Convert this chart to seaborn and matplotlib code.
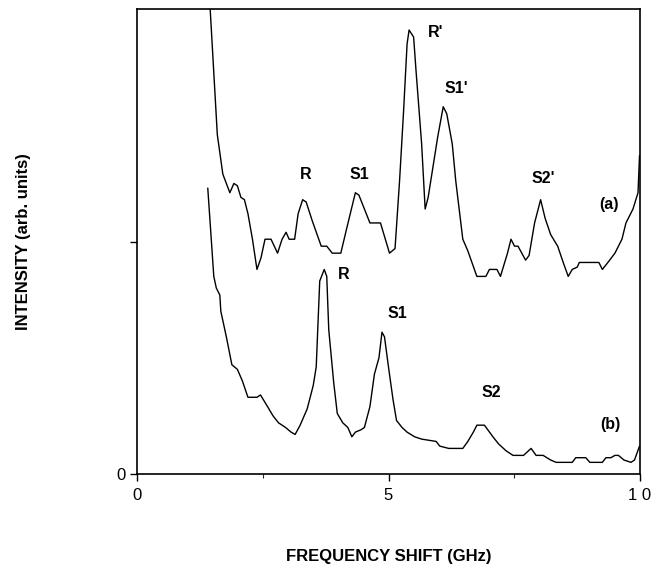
import numpy as np
import pandas as pd
import matplotlib
matplotlib.use('Agg')
import matplotlib.pyplot as plt
from matplotlib.ticker import FixedLocator
import seaborn as sns

# spectrum (a): frequency shift (GHz) and intensity (arb. units)
freq_a = [1.44, 1.59, 1.70, 1.84, 1.92, 1.99, 2.06, 2.13, 2.20, 2.29, 2.38, 2.46,
          2.54, 2.66, 2.79, 2.88, 2.96, 3.02, 3.13, 3.20, 3.29, 3.36, 3.48, 3.66,
          3.77, 3.88, 4.05, 4.16, 4.34, 4.41, 4.63, 4.84, 5.02, 5.13, 5.22, 5.30,
          5.37, 5.41, 5.50, 5.55, 5.66, 5.73, 5.79, 5.98, 6.09, 6.16, 6.27, 6.34,
          6.48, 6.58, 6.76, 6.94, 7.01, 7.16, 7.23, 7.37, 7.44, 7.51, 7.58, 7.73,
          7.80, 7.91, 8.03, 8.12, 8.23, 8.37, 8.48, 8.58, 8.66, 8.76, 8.80, 9.19,
          9.26, 9.37, 9.51, 9.65, 9.73, 9.87, 9.97, 10.0]
int_a = [2.03, 1.46, 1.29, 1.21, 1.25, 1.24, 1.19, 1.18, 1.12, 1.01, 0.88, 0.93,
         1.01, 1.01, 0.95, 1.01, 1.04, 1.01, 1.01, 1.12, 1.18, 1.17, 1.09, 0.98,
         0.98, 0.95, 0.95, 1.05, 1.21, 1.20, 1.08, 1.08, 0.95, 0.97, 1.26, 1.56,
         1.85, 1.91, 1.88, 1.73, 1.42, 1.14, 1.19, 1.45, 1.58, 1.55, 1.42, 1.26,
         1.01, 0.96, 0.85, 0.85, 0.88, 0.88, 0.85, 0.95, 1.01, 0.98, 0.98, 0.92,
         0.94, 1.08, 1.18, 1.10, 1.03, 0.98, 0.91, 0.85, 0.88, 0.89, 0.91, 0.91,
         0.88, 0.91, 0.95, 1.01, 1.08, 1.14, 1.21, 1.37]

# spectrum (b)
freq_b = [1.40, 1.52, 1.57, 1.64, 1.66, 1.74, 1.77, 1.88, 1.99, 2.09, 2.20, 2.38,
          2.45, 2.59, 2.70, 2.81, 2.95, 3.06, 3.14, 3.24, 3.38, 3.50, 3.56, 3.63,
          3.72, 3.77, 3.81, 3.91, 3.98, 4.09, 4.19, 4.27, 4.34, 4.45, 4.52, 4.63,
          4.72, 4.81, 4.87, 4.92, 5.00, 5.09, 5.16, 5.27, 5.37, 5.52, 5.66, 5.95,
          6.02, 6.20, 6.48, 6.58, 6.69, 6.76, 6.91, 7.08, 7.19, 7.34, 7.48, 7.69,
          7.84, 7.94, 8.08, 8.23, 8.34, 8.66, 8.73, 8.93, 9.01, 9.26, 9.33, 9.43,
          9.51, 9.58, 9.69, 9.83, 9.90, 10.0]
int_b = [1.23, 0.85, 0.80, 0.77, 0.70, 0.62, 0.59, 0.47, 0.45, 0.40, 0.33, 0.33,
         0.34, 0.29, 0.25, 0.22, 0.20, 0.18, 0.17, 0.21, 0.28, 0.38, 0.46, 0.83,
         0.88, 0.85, 0.62, 0.39, 0.26, 0.22, 0.20, 0.16, 0.18, 0.19, 0.20, 0.29,
         0.43, 0.50, 0.61, 0.59, 0.46, 0.32, 0.23, 0.20, 0.18, 0.16, 0.15, 0.14,
         0.12, 0.11, 0.11, 0.14, 0.18, 0.21, 0.21, 0.16, 0.13, 0.10, 0.08, 0.08,
         0.11, 0.08, 0.08, 0.06, 0.05, 0.05, 0.07, 0.07, 0.05, 0.05, 0.07, 0.07,
         0.08, 0.08, 0.06, 0.05, 0.06, 0.12]

peak_labels = ["R", "S1", "R'", "S1'", "S2'", "(a)", "R", "S1", "S2", "(b)"]

df = pd.concat([
    pd.DataFrame({'freq': freq_a, 'intensity': int_a, 'spectrum': 'a'}),
    pd.DataFrame({'freq': freq_b, 'intensity': int_b, 'spectrum': 'b'}),
])

sns.set_style('ticks')
plt.rcParams['font.family'] = ['Liberation Sans', 'DejaVu Sans']
plt.rcParams['text.color'] = 'black'
plt.rcParams['axes.labelcolor'] = 'black'

fig = plt.figure(figsize=(6.61, 5.69), dpi=100)
ax = fig.add_axes([0.208, 0.167, 0.7595, 0.817])

sns.lineplot(data=df, x='freq', y='intensity', units='spectrum', estimator=None,
             sort=False, color='black', linewidth=1.0, ax=ax)

ax.set_xlim(0, 10)
ax.set_ylim(0, 2)
ax.xaxis.set_major_locator(FixedLocator([0, 5, 10]))
ax.xaxis.set_minor_locator(FixedLocator([2.5, 7.5]))
ax.yaxis.set_major_locator(FixedLocator([0, 1]))
ax.set_xticklabels(['0', '5', '1 0'])
ax.set_yticklabels(['0', ''])
ax.tick_params(axis='both', which='major', direction='out', length=5, width=1,
               labelsize=12, color='black', labelcolor='black')
ax.tick_params(axis='x', which='major', pad=5)
ax.tick_params(axis='x', which='minor', direction='out', length=3, width=0.8)
for s in ax.spines.values():
    s.set_visible(True)
    s.set_linewidth(1.2)
    s.set_color('black')

ax.set_xlabel('FREQUENCY SHIFT (GHz)', fontsize=12, fontweight='bold')
ax.set_ylabel('INTENSITY (arb. units)', fontsize=12, fontweight='bold')
ax.xaxis.set_label_coords(0.5, -0.161)
ax.yaxis.set_label_coords(-0.212, 0.5)

label_pos = [(3.36, 1.29), (4.43, 1.29), (5.93, 1.90), (6.35, 1.66), (8.08, 1.27),
             (9.39, 1.16), (4.11, 0.86), (5.17, 0.69), (7.04, 0.35), (9.41, 0.215)]
for txt, (lx, ly) in zip(peak_labels, label_pos):
    ax.text(lx, ly, txt, fontsize=11.5, fontweight='bold', ha='center', va='center',
            color='black')

fig.savefig('out.png', dpi=100)
